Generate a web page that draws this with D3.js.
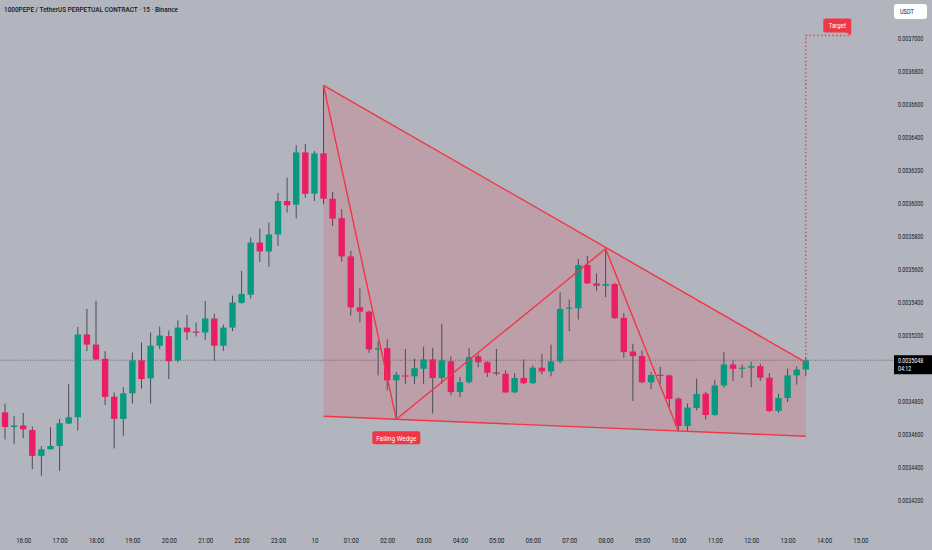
<!DOCTYPE html>
<html>
<head>
<meta charset="utf-8">
<script src="https://cdn.jsdelivr.net/npm/d3@7"></script>
<style>
  html, body { margin: 0; padding: 0; background: #b2b5be; }
  svg { display: block; font-family: Roboto, "Noto Sans", sans-serif; }
</style>
</head>
<body>
<div class="chart"></div>
<script>
// 15 minute candles, first one at 15:30 on the 9th
const startTime = new Date(2025, 0, 9, 15, 30);
const stepMinutes = 15;

const opens = [
  0.0034732, 0.0034643, 0.0034652, 0.0034625, 0.0034468, 0.0034508, 0.0034528, 0.0034664, 0.0034702, 0.0035204,
  0.0035143, 0.0035057, 0.0034827, 0.0034692, 0.0034847, 0.0035047, 0.0034938, 0.0035136, 0.0035194, 0.0035047,
  0.0035246, 0.0035222, 0.0035216, 0.0035301, 0.0035136, 0.0035246, 0.0035396, 0.0035446, 0.0035762, 0.0035708,
  0.0035811, 0.0036014, 0.0035992, 0.0036309, 0.0036058, 0.0036303, 0.0036028, 0.0035910, 0.0035678, 0.0035369,
  0.0035343, 0.0035113, 0.0035121, 0.0034926, 0.0034956, 0.0034950, 0.0034996, 0.0035053, 0.0034940, 0.0035041,
  0.0034855, 0.0034915, 0.0035071, 0.0035036, 0.0034974, 0.0034966, 0.0034853, 0.0034940, 0.0034909, 0.0035003,
  0.0034980, 0.0035041, 0.0035361, 0.0035363, 0.0035625, 0.0035514, 0.0035500, 0.0035510, 0.0035305, 0.0035101,
  0.0035073, 0.0034914, 0.0034960, 0.0034956, 0.0034815, 0.0034649, 0.0034758, 0.0034845, 0.0034716, 0.0034895,
  0.0035022, 0.0034996, 0.0035003, 0.0035012, 0.0034942, 0.0034740, 0.0034819, 0.0034956, 0.0034992
];
const highs = [
  0.0034785, 0.0034708, 0.0034728, 0.0034646, 0.0034528, 0.0034641, 0.0034692, 0.0034902, 0.0035250, 0.0035359,
  0.0035408, 0.0035103, 0.0034853, 0.0034885, 0.0035095, 0.0035156, 0.0035216, 0.0035252, 0.0035228, 0.0035289,
  0.0035323, 0.0035277, 0.0035408, 0.0035329, 0.0035264, 0.0035440, 0.0035591, 0.0035792, 0.0035847, 0.0035883,
  0.0036063, 0.0036155, 0.0036353, 0.0036361, 0.0036317, 0.0036716, 0.0036069, 0.0035964, 0.0035712, 0.0035484,
  0.0035349, 0.0035163, 0.0035174, 0.0034976, 0.0035117, 0.0035057, 0.0035131, 0.0035123, 0.0035269, 0.0035071,
  0.0034946, 0.0035121, 0.0035087, 0.0035042, 0.0035117, 0.0034986, 0.0034970, 0.0035053, 0.0035016, 0.0035087,
  0.0035143, 0.0035460, 0.0035416, 0.0035662, 0.0035682, 0.0035575, 0.0035724, 0.0035518, 0.0035333, 0.0035148,
  0.0035107, 0.0034976, 0.0035009, 0.0034960, 0.0034823, 0.0034785, 0.0034936, 0.0034855, 0.0034930, 0.0035097,
  0.0035047, 0.0035022, 0.0035039, 0.0035027, 0.0034970, 0.0034845, 0.0034998, 0.0035010, 0.0035067
];
const lows = [
  0.0034567, 0.0034539, 0.0034575, 0.0034387, 0.0034347, 0.0034504, 0.0034377, 0.0034660, 0.0034621, 0.0035103,
  0.0035049, 0.0034776, 0.0034513, 0.0034589, 0.0034785, 0.0034876, 0.0034785, 0.0035115, 0.0034934, 0.0035036,
  0.0035170, 0.0035192, 0.0035170, 0.0035047, 0.0035105, 0.0035224, 0.0035391, 0.0035423, 0.0035645, 0.0035615,
  0.0035742, 0.0035944, 0.0035907, 0.0036034, 0.0036014, 0.0035994, 0.0035863, 0.0035647, 0.0035319, 0.0035278,
  0.0035093, 0.0034956, 0.0034865, 0.0034688, 0.0034902, 0.0034902, 0.0034902, 0.0034724, 0.0034906, 0.0034835,
  0.0034825, 0.0034906, 0.0035006, 0.0034946, 0.0034956, 0.0034849, 0.0034849, 0.0034902, 0.0034902, 0.0034962,
  0.0034950, 0.0035030, 0.0035224, 0.0035295, 0.0035511, 0.0035470, 0.0035430, 0.0035298, 0.0035063, 0.0034801,
  0.0034908, 0.0034873, 0.0034902, 0.0034764, 0.0034619, 0.0034619, 0.0034744, 0.0034688, 0.0034711, 0.0034882,
  0.0034922, 0.0034940, 0.0034885, 0.0034922, 0.0034734, 0.0034730, 0.0034794, 0.0034900, 0.0034950
];
const closes = [
  0.0034643, 0.0034652, 0.0034629, 0.0034468, 0.0034508, 0.0034528, 0.0034666, 0.0034702, 0.0035204, 0.0035143,
  0.0035053, 0.0034825, 0.0034692, 0.0034847, 0.0035047, 0.0034934, 0.0035136, 0.0035198, 0.0035042, 0.0035246,
  0.0035218, 0.0035216, 0.0035301, 0.0035136, 0.0035246, 0.0035398, 0.0035450, 0.0035762, 0.0035708, 0.0035811,
  0.0036014, 0.0035988, 0.0036309, 0.0036058, 0.0036303, 0.0036028, 0.0035907, 0.0035678, 0.0035369, 0.0035343,
  0.0035113, 0.0035121, 0.0034926, 0.0034960, 0.0034950, 0.0035000, 0.0035053, 0.0034940, 0.0035047, 0.0034855,
  0.0034915, 0.0035067, 0.0035036, 0.0034972, 0.0034966, 0.0034853, 0.0034940, 0.0034909, 0.0035003, 0.0034980,
  0.0035041, 0.0035359, 0.0035367, 0.0035625, 0.0035514, 0.0035500, 0.0035510, 0.0035303, 0.0035097, 0.0035073,
  0.0034914, 0.0034958, 0.0034954, 0.0034813, 0.0034649, 0.0034761, 0.0034843, 0.0034716, 0.0034895, 0.0035022,
  0.0034996, 0.0035003, 0.0035012, 0.0034942, 0.0034740, 0.0034819, 0.0034956, 0.0034992, 0.0035048
];

// price axis labels
const priceTicks = [0.00342, 0.00344, 0.00346, 0.00348, 0.00350, 0.00352, 0.00354, 0.00356,
                    0.00358, 0.00360, 0.00362, 0.00364, 0.00366, 0.00368, 0.00370];
const lastPrice = 0.0035048;
const countdown = '04:12';

// falling wedge drawing: [candle index, price]
const wedgeTop = [[35, 0.0036716], [88, 0.0035035]];
const wedgeBottom = [[35, 0.0034708], [88, 0.0034587]];
const wedgeZigzag = [[35, 0.0036716], [43, 0.0034690], [66, 0.0035724], [74, 0.0034617]];
const targetPath = [[88, 0.0035035], [88, 0.0037018], [93, 0.0037018]];

const title = '1000PEPE / TetherUS PERPETUAL CONTRACT · 15 · Binance';

const width = 932, height = 550;
const upColor = '#089981', downColor = '#e91e63', drawColor = '#f23645';

const timeOf = i => d3.timeMinute.offset(startTime, i * stepMinutes);

const candles = opens.map((o, i) => ({
  t: timeOf(i), o: o, h: highs[i], l: lows[i], c: closes[i]
}));

const x = d3.scaleTime()
  .domain([timeOf(0), timeOf(88)])
  .range([5, 805.8]);
const y = d3.scaleLinear()
  .domain([0.00342, 0.0037])
  .range([500, 38.5]);

const svg = d3.select('.chart')
  .append('svg')
  .attr('width', width)
  .attr('height', height);

svg.append('rect')
  .attr('width', width)
  .attr('height', height)
  .attr('fill', '#b2b5be');

// squeeze text horizontally around its own x
function squeeze(sel, k) {
  sel.each(function() {
    const t = d3.select(this);
    const tx = +t.attr('x') || 0;
    t.attr('transform', `matrix(${k},0,0,1,${tx * (1 - k)},0)`);
  });
}

// last price line
svg.append('line')
  .attr('x1', 0)
  .attr('x2', 894)
  .attr('y1', y(lastPrice))
  .attr('y2', y(lastPrice))
  .attr('stroke', '#62656f')
  .attr('stroke-width', 1)
  .attr('stroke-dasharray', '1,1.5');

// wedge shading
const px = p => [x(timeOf(p[0])), y(p[1])];
const shade = [wedgeTop[0], wedgeTop[1], wedgeBottom[1], wedgeBottom[0]].map(px);
svg.append('polygon')
  .attr('points', shade.map(p => p.join(',')).join(' '))
  .attr('fill', 'rgba(242,54,69,0.17)');

// candles
const bodyW = 6.4;
const g = svg.append('g');
g.selectAll('line.wick')
  .data(candles)
  .join('line')
  .attr('class', 'wick')
  .attr('x1', d => x(d.t))
  .attr('x2', d => x(d.t))
  .attr('y1', d => y(d.h))
  .attr('y2', d => y(d.l))
  .attr('stroke', '#4a4d57')
  .attr('stroke-width', 1);

g.selectAll('rect.body')
  .data(candles)
  .join('rect')
  .attr('class', 'body')
  .attr('x', d => x(d.t) - bodyW / 2)
  .attr('width', bodyW)
  .attr('y', d => y(Math.max(d.o, d.c)))
  .attr('height', d => Math.max(1.2, Math.abs(y(d.o) - y(d.c))))
  .attr('fill', d => d.c >= d.o ? upColor : downColor);

// wedge lines
const line = d3.line().x(d => px(d)[0]).y(d => px(d)[1]);
[wedgeTop, wedgeBottom, wedgeZigzag].forEach(pts => {
  svg.append('path')
    .attr('d', line(pts))
    .attr('fill', 'none')
    .attr('stroke', drawColor)
    .attr('stroke-width', 1.4);
});

// target path
svg.append('path')
  .attr('d', line(targetPath))
  .attr('fill', 'none')
  .attr('stroke', drawColor)
  .attr('stroke-width', 1.4)
  .attr('stroke-dasharray', '1.4,2.4');

// Falling Wedge label
const low = px(wedgeZigzag[1]);
svg.append('rect')
  .attr('x', low[0] - 24)
  .attr('y', low[1] + 12)
  .attr('width', 48)
  .attr('height', 13)
  .attr('rx', 2)
  .attr('fill', drawColor);
svg.append('text')
  .attr('x', low[0])
  .attr('y', low[1] + 21.3)
  .attr('text-anchor', 'middle')
  .attr('font-size', 7.2)
  .attr('fill', 'white')
  .text('Falling Wedge')
  .call(squeeze, 0.9);

// Target label
const tgt = px(targetPath[2]);
svg.append('rect')
  .attr('x', tgt[0] - 28)
  .attr('y', tgt[1] - 17)
  .attr('width', 28)
  .attr('height', 14)
  .attr('rx', 2)
  .attr('fill', drawColor);
svg.append('path')
  .attr('d', `M${tgt[0] - 7},${tgt[1] - 4} L${tgt[0] - 0.5},${tgt[1] - 4} L${tgt[0]},${tgt[1]} Z`)
  .attr('fill', drawColor);
svg.append('text')
  .attr('x', tgt[0] - 14)
  .attr('y', tgt[1] - 7.6)
  .attr('text-anchor', 'middle')
  .attr('font-size', 7.2)
  .attr('fill', 'white')
  .text('Target')
  .call(squeeze, 0.85);

// x axis
const hourTicks = d3.timeHour.range(d3.timeHour.ceil(timeOf(0)), d3.timeMinute.offset(timeOf(94), 1));
const xAxis = d3.axisBottom(x)
  .tickValues(hourTicks)
  .tickSize(0)
  .tickPadding(0)
  .tickFormat(d => d.getHours() === 0 ? d3.timeFormat('%-d')(d) : d3.timeFormat('%H:%M')(d));
const xg = svg.append('g')
  .attr('transform', 'translate(0,543)')
  .call(xAxis);
xg.select('.domain').remove();
xg.selectAll('text')
  .attr('font-size', 6.6)
  .attr('fill', '#131722')
  .attr('font-family', 'Roboto')
  .attr('dy', 0)
  .call(squeeze, 0.92);

// y axis
const yAxis = d3.axisRight(y)
  .tickValues(priceTicks)
  .tickSize(0)
  .tickPadding(0)
  .tickFormat(d3.format('.7f'));
const yg = svg.append('g')
  .attr('transform', 'translate(898,0)')
  .call(yAxis);
yg.select('.domain').remove();
yg.selectAll('text')
  .attr('font-size', 6.6)
  .attr('fill', '#131722')
  .attr('font-family', 'Roboto')
  .call(squeeze, 0.8);

// last price tag
const ly = y(lastPrice);
svg.append('rect')
  .attr('x', 894)
  .attr('y', ly - 5)
  .attr('width', 38)
  .attr('height', 19)
  .attr('fill', '#000');
svg.append('text')
  .attr('x', 898)
  .attr('y', ly + 2.6)
  .attr('font-size', 6.6)
  .attr('fill', 'white')
  .text(d3.format('.7f')(lastPrice))
  .call(squeeze, 0.8);
svg.append('text')
  .attr('x', 898)
  .attr('y', ly + 11.2)
  .attr('font-size', 6.6)
  .attr('fill', 'white')
  .text(countdown)
  .call(squeeze, 0.8);

// currency badge
svg.append('rect')
  .attr('x', 894)
  .attr('y', 4)
  .attr('width', 33)
  .attr('height', 15)
  .attr('rx', 3)
  .attr('fill', 'white');
svg.append('text')
  .attr('x', 900)
  .attr('y', 14.2)
  .attr('font-size', 6.6)
  .attr('fill', '#131722')
  .text('USDT')
  .call(squeeze, 0.85);

// title
svg.append('text')
  .attr('x', 4)
  .attr('y', 12.3)
  .attr('font-size', 8)
  .attr('font-weight', 500)
  .attr('fill', '#131722')
  .attr('textLength', 174)
  .attr('lengthAdjust', 'spacingAndGlyphs')
  .text(title);
</script>
</body>
</html>
